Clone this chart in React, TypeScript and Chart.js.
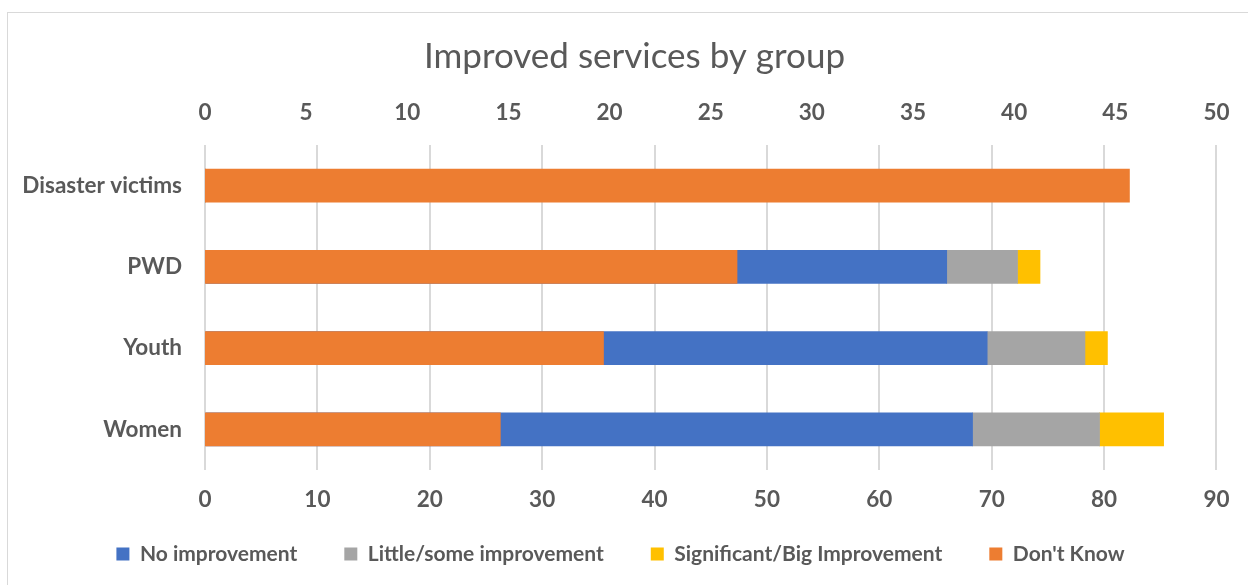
import React, { useEffect, useRef } from 'react';
import { Chart, registerables } from 'chart.js';

Chart.register(...registerables);

const categories = ['Disaster victims', 'PWD', 'Youth', 'Women'];
const noImprovement = [0, 66.0, 69.6, 68.3];
const littleImprovement = [0, 6.3, 8.7, 11.3];
const bigImprovement = [0, 2.0, 2.0, 5.7];
const dontKnow = [45.7, 26.3, 19.7, 14.6];

const bottomTickValues = [0, 10, 20, 30, 40, 50, 60, 70, 80, 90];
const topTickValues = [0, 5, 10, 15, 20, 25, 30, 35, 40, 45, 50];

const TEXT = '#595959';
const FONT = 'Lato, "Open Sans", sans-serif';
const TICK_SIZE = 22.5;
const LEGEND_SIZE = 21;
const LEGEND_PAD = 47;

const boxShift = {
  id: 'boxShift',
  afterLayout(chart: any) {
    const lg = chart.legend;
    if (lg) {
      lg.left += 11;
      lg.right += 11;
      lg.top = 554 - LEGEND_PAD - LEGEND_SIZE / 2;
    }
    const tb = chart.titleBlock;
    if (tb) {
      tb.left += 25;
      tb.right += 25;
    }
  },
};

export default function App() {
  const ref = useRef<HTMLCanvasElement | null>(null);

  useEffect(() => {
    if (!ref.current) return;
    const chart = new Chart(ref.current, {
      type: 'bar',
      data: {
        labels: categories,
        datasets: [
          {
            label: 'No improvement',
            data: noImprovement,
            backgroundColor: '#4472C4',
            xAxisID: 'x',
            grouped: false,
            order: 1,
            barThickness: 33,
          },
          {
            label: 'Little/some improvement',
            data: littleImprovement,
            backgroundColor: '#A5A5A5',
            xAxisID: 'x',
            grouped: false,
            order: 1,
            barThickness: 33,
          },
          {
            label: 'Significant/Big Improvement',
            data: bigImprovement,
            backgroundColor: '#FFC000',
            xAxisID: 'x',
            grouped: false,
            order: 1,
            barThickness: 33,
          },
          {
            label: "Don't Know",
            data: dontKnow,
            backgroundColor: '#ED7D31',
            xAxisID: 'x2',
            grouped: false,
            order: 0,
            barThickness: 33,
          },
        ] as any,
      },
      options: {
        indexAxis: 'y',
        responsive: false,
        maintainAspectRatio: false,
        animation: false,
        layout: { padding: { top: 36, left: 0, right: 29, bottom: 0 } },
        scales: {
          x: {
            type: 'linear',
            position: 'bottom',
            stacked: true,
            min: bottomTickValues[0],
            max: bottomTickValues[bottomTickValues.length - 1],
            afterBuildTicks: (scale: any) => {
              scale.ticks = bottomTickValues.map((v) => ({ value: v }));
            },
            grid: { color: '#d9d9d9', lineWidth: 2, drawTicks: false },
            border: { display: false },
            ticks: {
              color: TEXT,
              padding: 16.5,
              font: { family: FONT, size: TICK_SIZE, weight: 'bold' },
            },
            afterFit: (scale: any) => {
              scale.height = 60;
            },
          },
          x2: {
            type: 'linear',
            position: 'top',
            stacked: true,
            min: topTickValues[0],
            max: topTickValues[topTickValues.length - 1],
            afterBuildTicks: (scale: any) => {
              scale.ticks = topTickValues.map((v) => ({ value: v }));
            },
            grid: { display: false, drawTicks: false },
            border: { display: false },
            ticks: {
              color: TEXT,
              padding: 18.5,
              font: { family: FONT, size: TICK_SIZE, weight: 'bold' },
            },
            afterFit: (scale: any) => {
              scale.height = 67;
            },
          },
          y: {
            stacked: true,
            grid: { display: false, drawTicks: false },
            border: { display: false },
            ticks: {
              color: TEXT,
              padding: 23,
              font: { family: FONT, size: TICK_SIZE, weight: 'bold' },
            },
            afterFit: (scale: any) => {
              scale.width = 205;
            },
          },
        } as any,
        plugins: {
          title: {
            display: true,
            text: 'Improved services by group',
            color: TEXT,
            padding: { top: 0, bottom: 0 },
            font: { family: FONT, size: 35, weight: 'normal', lineHeight: 1.2 },
          },
          legend: {
            display: true,
            position: 'bottom',
            maxHeight: 55,
            labels: {
              color: TEXT,
              boxWidth: 13,
              boxHeight: 13,
              padding: LEGEND_PAD,
              font: { family: FONT, size: LEGEND_SIZE, weight: 'bold' },
              sort: (a: any, b: any) => a.datasetIndex - b.datasetIndex,
            },
          },
          tooltip: { enabled: false },
        },
      } as any,
      plugins: [boxShift],
    });
    return () => chart.destroy();
  }, []);

  return (
    <div
      style={{
        position: 'absolute',
        left: 0,
        top: 0,
        width: 1248,
        height: 585,
        overflow: 'hidden',
        background: '#ffffff',
      }}
    >
      <div
        style={{
          position: 'absolute',
          left: 7,
          top: 12,
          width: 1400,
          height: 800,
          border: '1px solid #d9d9d9',
          boxSizing: 'border-box',
        }}
      />
      <canvas
        ref={ref}
        width={1248}
        height={585}
        style={{ position: 'absolute', left: 0, top: 0, width: 1248, height: 585 }}
      />
    </div>
  );
}
